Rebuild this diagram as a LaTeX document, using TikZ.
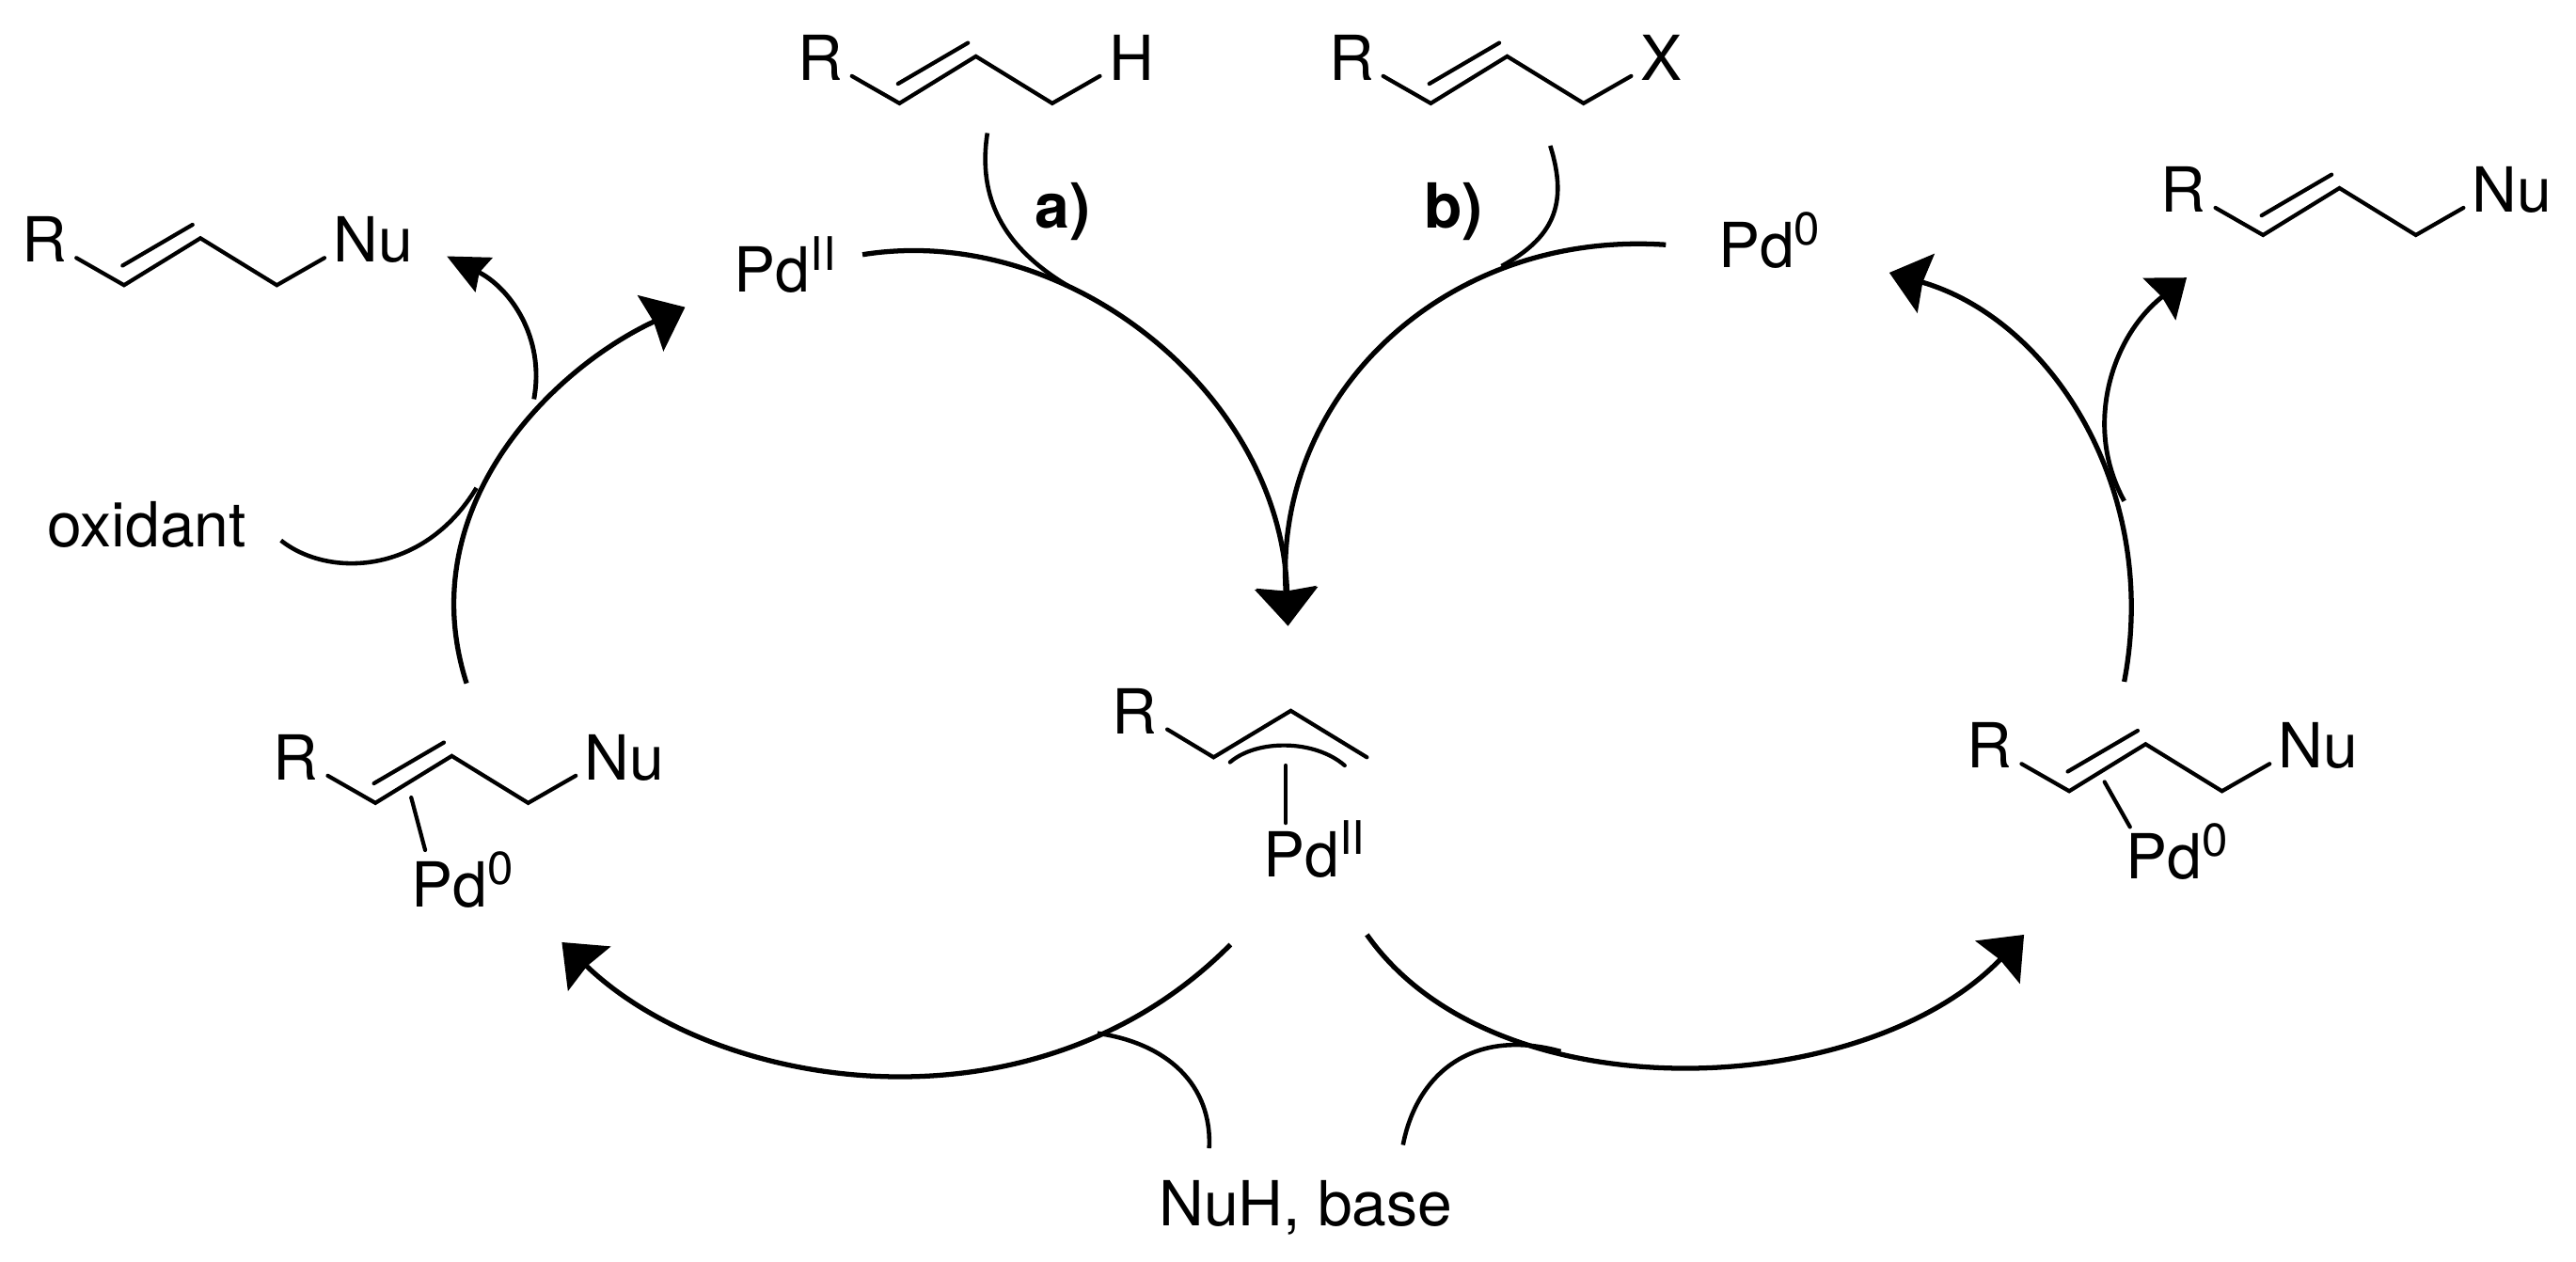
\documentclass[tikz,border=0pt]{standalone}
\usepackage{fontspec}
\setmainfont{TeX Gyre Heros}
\usetikzlibrary{arrows.meta}

\newcommand{\Pdox}[1]{Pd\raisebox{6.8pt}{\fontsize{14}{15}\selectfont #1}}

\tikzset{
  bond/.style={line width=1.2pt,line cap=round},
  label/.style={anchor=base west,inner sep=0pt,outer sep=0pt,font=\fontsize{18.8}{20}\selectfont},
  feed/.style={line width=1.3pt},
  cycle/.style={line width=1.5pt,-{Stealth[length=11.5pt,width=18.5pt,inset=1pt]}},
  exit/.style={line width=1.4pt,-{Stealth[length=12.5pt,width=11.5pt,inset=1.5pt]}},
  exitwide/.style={line width=1.4pt,-{Stealth[length=10.5pt,width=16pt,inset=1pt]}}
}

\begin{document}
\begin{tikzpicture}[x=0.017468cm,y=-0.017468cm]
  \useasboundingbox (0,0) rectangle (1568,768.25);

  \coordinate (PdIIs) at (525,155);
  \coordinate (PdOs) at (1014,149);
  \coordinate (Ctr) at (784,381);
  \coordinate (Fa) at (601,81);
  \coordinate (FaEnd) at (650,174);
  \coordinate (Fb) at (943.6,88.7);
  \coordinate (FbEnd) at (914,162);
  \coordinate (Ls) at (284,416);
  \coordinate (Lt) at (417,187);
  \coordinate (LNus) at (325,243);
  \coordinate (LNut) at (272,156);
  \coordinate (Ox) at (171,329);
  \coordinate (OxEnd) at (290,297);
  \coordinate (Rs) at (1293,415);
  \coordinate (Rt) at (1150,166);
  \coordinate (RNus) at (1293,305);
  \coordinate (RNut) at (1331,169);
  \coordinate (BLs) at (749,575);
  \coordinate (BLt) at (342,573.6);
  \coordinate (BRs) at (832,569);
  \coordinate (BRt) at (1232,569);
  \coordinate (NuL) at (736,699);
  \coordinate (NuLEnd) at (668,629);
  \coordinate (NuR) at (854,697);
  \coordinate (NuREnd) at (950,640);

  % allyl chains
  \foreach \px/\py/\lab/\idx in {594/34.3/H/1,917.4/34.3/X/2,122/145/Nu/3,1424/114.5/Nu/4,275/460.2/Nu/5,1306/453/Nu/6} {
    \begin{scope}[shift={(\px,\py)}]
      \draw[bond] (-75.5,12) -- (-46.5,28.6) -- (0,0) -- (46.5,28.6) -- (75.5,12);
      \draw[bond] (-47.4,16.7) -- (-4.8,-8.2);
      \node[label] (R\idx) at (-108.5,14.5) {R};
      \node[label] (E\idx) at (81,14.5) {\lab};
    \end{scope}
  }

  % Pd complexes
  \draw[bond] (250.3,485.5) -- (258.8,517.5);
  \node[label] (PdL) at (250.5,552) {\Pdox{0}};
  \draw[bond] (1281,476) -- (1296.5,503.4);
  \node[label] (PdR) at (1294,535) {\Pdox{0}};

  % centre
  \node[label] (RC) at (677,447) {R};
  \draw[bond] (710.5,444) -- (738.7,461) -- (785.7,432.7) -- (832,461);
  \draw[bond] (748.7,464) .. controls (765,450) and (800,450) .. (818.5,466);
  \draw[bond] (782.6,466) -- (782.6,501);
  \node[label] (PdC) at (769,534) {\Pdox{II}};

  \node[label] (PdII) at (447,178) {\Pdox{II}};
  \node[label] (PdO) at (1046,163) {\Pdox{0}};
  \node[label,font=\fontsize{18.8}{20}\bfseries] (a) at (630,139) {a)};
  \node[label,font=\fontsize{18.8}{20}\bfseries] (b) at (867,139) {b)};
  \node[label] (ox) at (29,333) {oxidant};
  \node[label] (base) at (705.5,746) {NuH, base};

  % arcs
  \draw[cycle] (PdIIs) .. controls (650,135) and (780,240) .. (Ctr);
  \draw[cycle] (PdOs) .. controls (880,140) and (775,240) .. (Ctr);
  \draw[feed] (Fa) .. controls (595,120) and (610,150) .. (FaEnd);
  \draw[feed] (Fb) .. controls (955,125) and (945,145) .. (FbEnd);
  \draw[cycle] (Ls) .. controls (250,310) and (335,225) .. (Lt);
  \draw[exit] (LNus) .. controls (332,205) and (310,175) .. (LNut);
  \draw[feed] (Ox) .. controls (200,352) and (258,350) .. (OxEnd);
  \draw[cycle] (Rs) .. controls (1315,300) and (1250,195) .. (Rt);
  \draw[exitwide] (RNus) .. controls (1268,260) and (1285,205) .. (RNut);
  \draw[cycle] (BLs) .. controls (630,695) and (437,665) .. (BLt);
  \draw[cycle] (BRs) .. controls (910,680) and (1135,670) .. (BRt);
  \draw[feed] (NuL) .. controls (738,660) and (710,635) .. (NuLEnd);
  \draw[feed] (NuR) .. controls (862,655) and (895,625) .. (NuREnd);
\end{tikzpicture}
\end{document}
